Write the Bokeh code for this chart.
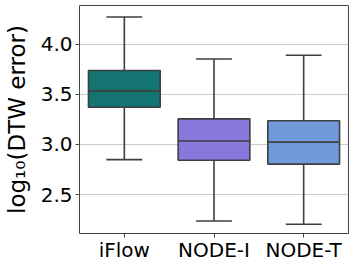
from bokeh.plotting import figure
from bokeh.models import ColumnDataSource, FactorRange, Range1d, FixedTicker, CustomJSTickFormatter
from bokeh.transform import dodge
from bokeh.embed import file_html
from bokeh.resources import INLINE

methods = ["iFlow", "NODE-I", "NODE-T"]
whisker_low = [2.849, 2.237, 2.204]
q1 = [3.371, 2.843, 2.804]
median = [3.534, 3.035, 3.023]
q3 = [3.738, 3.255, 3.236]
whisker_high = [4.271, 3.853, 3.890]
colors = ["#137471", "#8877dc", "#6f9bdb"]
y_ticks = [2.5, 3.0, 3.5, 4.0]

EDGE = "#3f3f3f"
FONT = "DejaVu Sans"
LW = 1.6

src = ColumnDataSource(dict(m=methods, lo=whisker_low, q1=q1, med=median,
                            q3=q3, hi=whisker_high, c=colors))

p = figure(x_range=FactorRange(*methods, range_padding=0.0),
           y_range=Range1d(2.112, 4.386),
           width=349, height=264, output_backend="svg", toolbar_location=None,
           min_border_left=73, min_border_right=1, min_border_top=5,
           min_border_bottom=26)

p.x_range.factor_padding = 0.0

# whiskers
p.segment(x0="m", y0="q3", x1="m", y1="hi", source=src, line_color=EDGE, line_width=LW)
p.segment(x0="m", y0="lo", x1="m", y1="q1", source=src, line_color=EDGE, line_width=LW)
# caps
p.segment(x0=dodge("m", -0.2, range=p.x_range), y0="hi",
          x1=dodge("m", 0.2, range=p.x_range), y1="hi",
          source=src, line_color=EDGE, line_width=LW)
p.segment(x0=dodge("m", -0.2, range=p.x_range), y0="lo",
          x1=dodge("m", 0.2, range=p.x_range), y1="lo",
          source=src, line_color=EDGE, line_width=LW)
# boxes
p.vbar(x="m", bottom="q1", top="q3", width=0.8, source=src, fill_color="c",
       line_color=EDGE, line_width=LW)
# medians
p.segment(x0=dodge("m", -0.4, range=p.x_range), y0="med",
          x1=dodge("m", 0.4, range=p.x_range), y1="med",
          source=src, line_color=EDGE, line_width=LW)

p.xgrid.grid_line_color = None
p.ygrid.grid_line_color = "#cccccc"
p.ygrid.grid_line_width = 1
p.yaxis.ticker = FixedTicker(ticks=y_ticks)
p.yaxis.formatter = CustomJSTickFormatter(code="return tick.toFixed(1);")
p.yaxis.minor_tick_line_color = None

p.outline_line_color = "#444444"
p.outline_line_width = 1
for ax in (p.xaxis[0], p.yaxis[0]):
    ax.axis_line_color = None
    ax.major_tick_line_color = "#444444"
    ax.major_tick_out = 4
    ax.major_tick_in = 0
    ax.major_label_text_font = FONT
    ax.major_label_text_font_size = "20px"
    ax.major_label_text_color = "#000000"
    ax.major_label_standoff = 3
p.xaxis.major_label_standoff = 0

p.yaxis.axis_label = "log₁₀(DTW error)"
p.yaxis.axis_label_text_font = FONT
p.yaxis.axis_label_text_font_size = "23px"
p.yaxis.axis_label_text_font_style = "normal"
p.yaxis.axis_label_text_color = "#000000"
p.yaxis.axis_label_standoff = 8

open("out.html", "w").write(file_html(p, INLINE))
